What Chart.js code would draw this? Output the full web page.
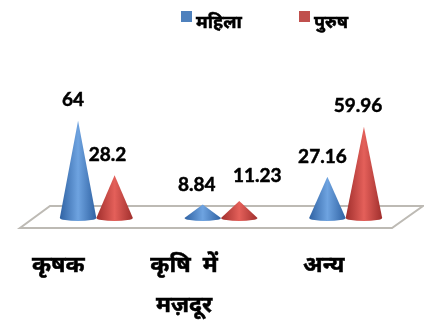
<!DOCTYPE html>
<html>
<head>
<meta charset="utf-8">
<script src="https://cdn.jsdelivr.net/npm/chart.js@4/dist/chart.umd.min.js"></script>
<style>
	html, body { margin: 0; padding: 0; background: #fff; }
	canvas { display: block; }
</style>
</head>
<body>
<canvas id="Chart" width="424" height="322"></canvas>
<script>
//データ
const categories = ["कृषक", "कृषि  में|मज़दूर", "अन्य"];
const series_names = ["महिला", "पुरुष"];
const women = [64, 8.84, 27.16];
const men = [28.2, 11.23, 59.96];

//色 [端, 中央]
const cone_colors = [["#2f62a3", "#6ea3e0"], ["#a02f2d", "#e4605a"]];
const legend_colors = ["#4f81bd", "#c0504d"];

//ラベルのずれ
const value_shift_x = [[-5, -6, -5], [-7, 18, -6]];
const value_shift_y = [[-21, -20, -20], [-20, -25, -21]];
const category_shift_x = [-38, -37, -22];
const legend_x = [181, 299];

const value_font = "bold 19px Lato, 'Noto Sans', sans-serif";

//円錐を描く
function drawCone(ctx, bar, colors) {
	const half = bar.width / 2;
	const ry = 3;
	const grad = ctx.createLinearGradient(bar.x - half, 0, bar.x + half, 0);
	grad.addColorStop(0, colors[0]);
	grad.addColorStop(0.5, colors[1]);
	grad.addColorStop(1, colors[0]);
	ctx.beginPath();
	ctx.moveTo(bar.x, bar.y);
	ctx.lineTo(bar.x + half, bar.base);
	ctx.ellipse(bar.x, bar.base, half, ry, 0, 0, Math.PI);
	ctx.closePath();
	ctx.fillStyle = grad;
	ctx.fill();
}

//太めの文字
function heavyText(ctx, text, x, y) {
	ctx.fillText(text, x, y);
	ctx.strokeText(text, x, y);
}

const conePlugin = {
	id: "cones",
	//床
	beforeDatasetsDraw(chart) {
		const ctx = chart.ctx;
		const area = chart.chartArea;
		const base = chart.scales.y.getPixelForValue(0);
		ctx.save();
		ctx.beginPath();
		ctx.moveTo(area.left + 16, base - 12);
		ctx.lineTo(area.right + 15, base - 12);
		ctx.lineTo(area.right - 16, base + 10);
		ctx.lineTo(area.left - 14, base + 10);
		ctx.closePath();
		ctx.strokeStyle = "#bdbab4";
		ctx.lineWidth = 2;
		ctx.stroke();
		ctx.restore();
	},
	//棒の代わりに円錐
	beforeDatasetDraw(chart, args) {
		const ctx = chart.ctx;
		ctx.save();
		args.meta.data.forEach(bar => drawCone(ctx, bar, cone_colors[args.index]));
		ctx.restore();
		return false;
	},
	afterDraw(chart) {
		const ctx = chart.ctx;
		const x = chart.scales.x;
		ctx.save();
		ctx.fillStyle = "#000";
		ctx.strokeStyle = "#000";
		ctx.lineWidth = 0.5;
		ctx.textBaseline = "middle";
		ctx.textAlign = "center";
		ctx.font = value_font;

		//値ラベル
		chart.data.datasets.forEach((ds, d) => {
			chart.getDatasetMeta(d).data.forEach((bar, i) => {
				heavyText(ctx, String(ds.data[i]), bar.x + value_shift_x[d][i], bar.y + value_shift_y[d][i]);
			});
		});

		//カテゴリ
		ctx.font = "bold 23px 'Noto Sans', Lato, sans-serif";
		categories.forEach((name, i) => {
			name.split("|").forEach((line, n) => {
				heavyText(ctx, line, x.getPixelForValue(i) + category_shift_x[i], 265 + n * 40);
			});
		});

		//凡例
		ctx.textAlign = "left";
		ctx.font = "bold 18px 'Noto Sans', Lato, sans-serif";
		chart.data.datasets.forEach((ds, d) => {
			ctx.fillStyle = legend_colors[d];
			ctx.fillRect(legend_x[d], 11, 11, 11);
			ctx.fillStyle = "#000";
			heavyText(ctx, ds.label, legend_x[d] + 15, 23);
		});
		ctx.restore();
	}
};

let config = {
	type: "bar",
	data: {
		labels: categories,
		datasets: [
			{ label: series_names[0], data: women, backgroundColor: legend_colors[0], categoryPercentage: 0.586, barPercentage: 1 },
			{ label: series_names[1], data: men, backgroundColor: legend_colors[1], categoryPercentage: 0.586, barPercentage: 1 }
		]
	},
	options: {
		responsive: false,
		animation: false,
		layout: { padding: { left: 34, right: 16, top: 96.4, bottom: 104 } },
		plugins: { legend: { display: false }, tooltip: { enabled: false } },
		scales: {
			x: { display: false },
			y: { display: false, min: 0, max: 80 }
		}
	},
	plugins: [conePlugin]
};
let chart = new Chart(document.getElementById("Chart"), config);
</script>
</body>
</html>
